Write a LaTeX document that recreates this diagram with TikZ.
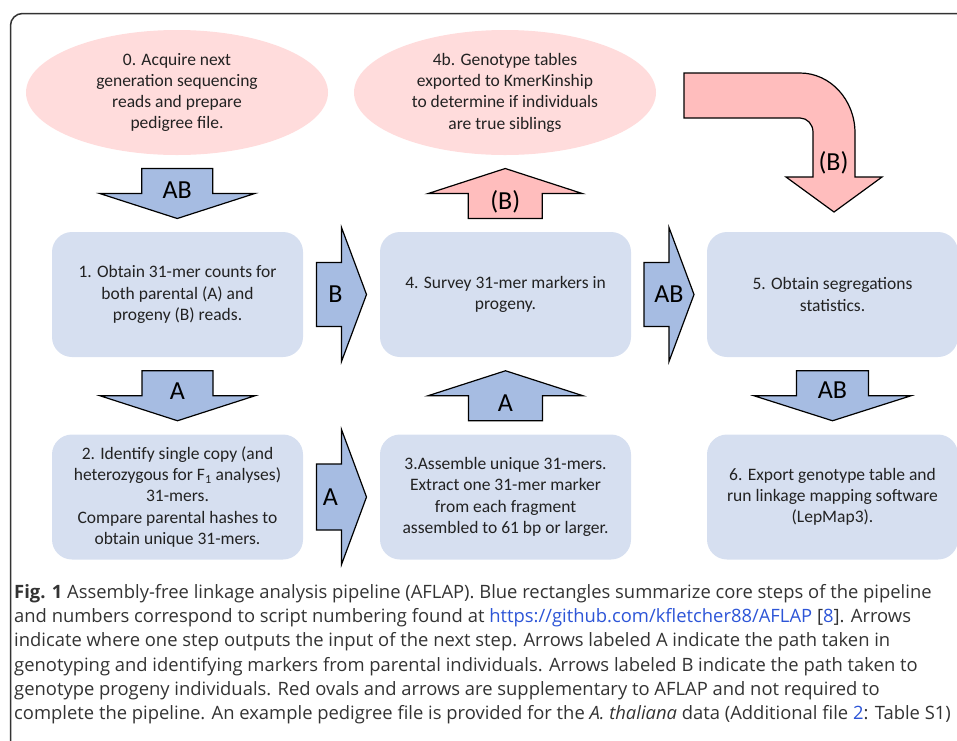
\documentclass[tikz,border=0pt]{standalone}
\usepackage{fontspec}
\setmainfont{Carlito}
\newfontfamily\capfont{Open Sans}
\usetikzlibrary{shapes.geometric,calc}

\definecolor{boxblue}{RGB}{214,223,240}
\definecolor{arrowblue}{RGB}{166,188,226}
\definecolor{arrowpink}{RGB}{255,189,189}
\definecolor{ovalpink}{RGB}{255,220,220}
\definecolor{linkblue}{RGB}{45,85,215}
\definecolor{textgray}{RGB}{34,34,34}
\definecolor{framegray}{RGB}{51,51,51}

\tikzset{
  box/.style={rounded corners=20pt, fill=boxblue, minimum width=251pt, minimum height=125pt,
    align=center, text=textgray, font=\fontsize{17.5}{21.3}\selectfont},
  oval/.style={ellipse, fill=ovalpink, minimum width=302pt, minimum height=125pt,
    align=center, text=textgray, font=\fontsize{17.5}{21.3}\selectfont},
  bluearrow/.style={draw=black, line width=1.2pt, fill=arrowblue},
  pinkarrow/.style={draw=black, line width=1.2pt, fill=arrowpink},
  arrowlabel/.style={inner sep=0pt, text=black, font=\fontsize{26}{30}\selectfont},
}

% block arrow: centre, angle, style, half shaft width, half head width
\newcommand{\blockarrow}[5]{%
  \begin{scope}[shift={#1},rotate=#2]
    \draw[#3] (-25,-#4) -- (0,-#4) -- (0,-#5) -- (25,0) -- (0,#5) -- (0,#4) -- (-25,#4) -- cycle;
  \end{scope}}

\begin{document}
\begin{tikzpicture}[x=1pt,y=1pt]
  \useasboundingbox (0,0) rectangle (957,-740);
  \clip (0,0) rectangle (957,-740);
  \draw[framegray, line width=1.5pt, rounded corners=12pt] (10.5,-13.5) rectangle (990,-780);

  % ovals
  \node[oval] (ell0) at (177,-92.5) {0. Acquire next\\generation sequencing\\reads and prepare\\pedigree file.};
  \node[oval] (ell4b) at (505,-92.5) {4b. Genotype tables\\exported to KmerKinship\\to determine if individuals\\are true siblings};

  % pipeline steps
  \node[box] (box1) at (177.5,-294.5) {1. Obtain 31-mer counts for\\both parental (A) and\\progeny (B) reads.};
  \node[box] (box4) at (505.5,-294.5) {4. Survey 31-mer markers in\\progeny.};
  \node[box] (box5) at (832.5,-294.5) {5. Obtain segregations\\statistics.};
  \node[box] (box2) at (177.5,-497) {2. Identify single copy (and\\heterozygous for F\textsubscript{1} analyses)\\31-mers.\\Compare parental hashes to\\obtain unique 31-mers.};
  \node[box] (box3) at (505.5,-497) {3.Assemble unique 31-mers.\\Extract one 31-mer marker\\from each fragment\\assembled to 61 bp or larger.};
  \node[box] (box6) at (832.5,-497) {6. Export genotype table and\\run linkage mapping software\\(LepMap3).};

  % arrows between the steps
  \coordinate (m01) at ($(ell0.south)!.5!(box1.north)$);
  \coordinate (m12) at ($(box1.south)!.5!(box2.north)$);
  \coordinate (m14) at ($(box1.east)!.5!(box4.west)$);
  \coordinate (m23) at ($(box2.east)!.5!(box3.west)$);
  \coordinate (m34) at ($(box3.north)!.5!(box4.south)$);
  \coordinate (m44b) at ($(box4.north)!.5!(ell4b.south)$);
  \coordinate (m45) at ($(box4.east)!.5!(box5.west)$);
  \coordinate (m56) at ($(box5.south)!.5!(box6.north)$);

  \blockarrow{(m01)}{-90}{bluearrow}{35.5}{77.5}
  \blockarrow{(m12)}{-90}{bluearrow}{35.5}{77.5}
  \blockarrow{(m14)}{0}{bluearrow}{32}{67}
  \blockarrow{(m23)}{0}{bluearrow}{33}{67.5}
  \blockarrow{(m34)}{90}{bluearrow}{37}{77.5}
  \blockarrow{(m44b)}{90}{pinkarrow}{37}{77}
  \blockarrow{(m45)}{0}{bluearrow}{32}{67}
  \blockarrow{(m56)}{-90}{bluearrow}{36}{78.5}

  \node[arrowlabel] (l01) at ([yshift=3pt]m01) {AB};
  \node[arrowlabel] (l12) at ([yshift=4.5pt]m12) {A};
  \node[arrowlabel] (l14) at ([xshift=-6pt]m14) {B};
  \node[arrowlabel] (l23) at ([xshift=-11pt]m23) {A};
  \node[arrowlabel] (l34) at ([yshift=-7.5pt]m34) {A};
  \node[arrowlabel] (l44b) at ([yshift=-8pt]m44b) {(B)};
  \node[arrowlabel] (l45) at (m45) {AB};
  \node[arrowlabel] (l56) at ([yshift=6pt]m56) {AB};

  % bent arrow into step 5
  \draw[pinkarrow] (684,-73) -- (800,-73) arc[start angle=90, end angle=0, x radius=55, y radius=60]
    -- (855,-177) -- (882,-177) -- (834,-212) -- (786,-177) -- (813,-177) -- (813,-132)
    arc[start angle=0, end angle=90, x radius=13, y radius=14] -- (684,-118) -- cycle;
  \node[arrowlabel] (lbent) at (833.5,-163) {(B)};

  % caption
  \node[anchor=north west, align=left, inner sep=0pt, text=framegray,
    font=\capfont\fontsize{18.4}{24.3}\selectfont] (cap) at (14,-584)
    {{\bfseries Fig. 1} Assembly-free linkage analysis pipeline (AFLAP). Blue rectangles summarize core steps of the pipeline\\
     and numbers correspond to script numbering found at \textcolor{linkblue}{https://github.com/kfletcher88/AFLAP} [\textcolor{linkblue}{8}]. Arrows\\
     indicate where one step outputs the input of the next step. Arrows labeled A indicate the path taken in\\
     genotyping and identifying markers from parental individuals. Arrows labeled B indicate the path taken to\\
     genotype progeny individuals. Red ovals and arrows are supplementary to AFLAP and not required to\\
     complete the pipeline. An example pedigree file is provided for the \textit{A. thaliana} data (Additional file \textcolor{linkblue}{2}: Table S1)};
\end{tikzpicture}
\end{document}
